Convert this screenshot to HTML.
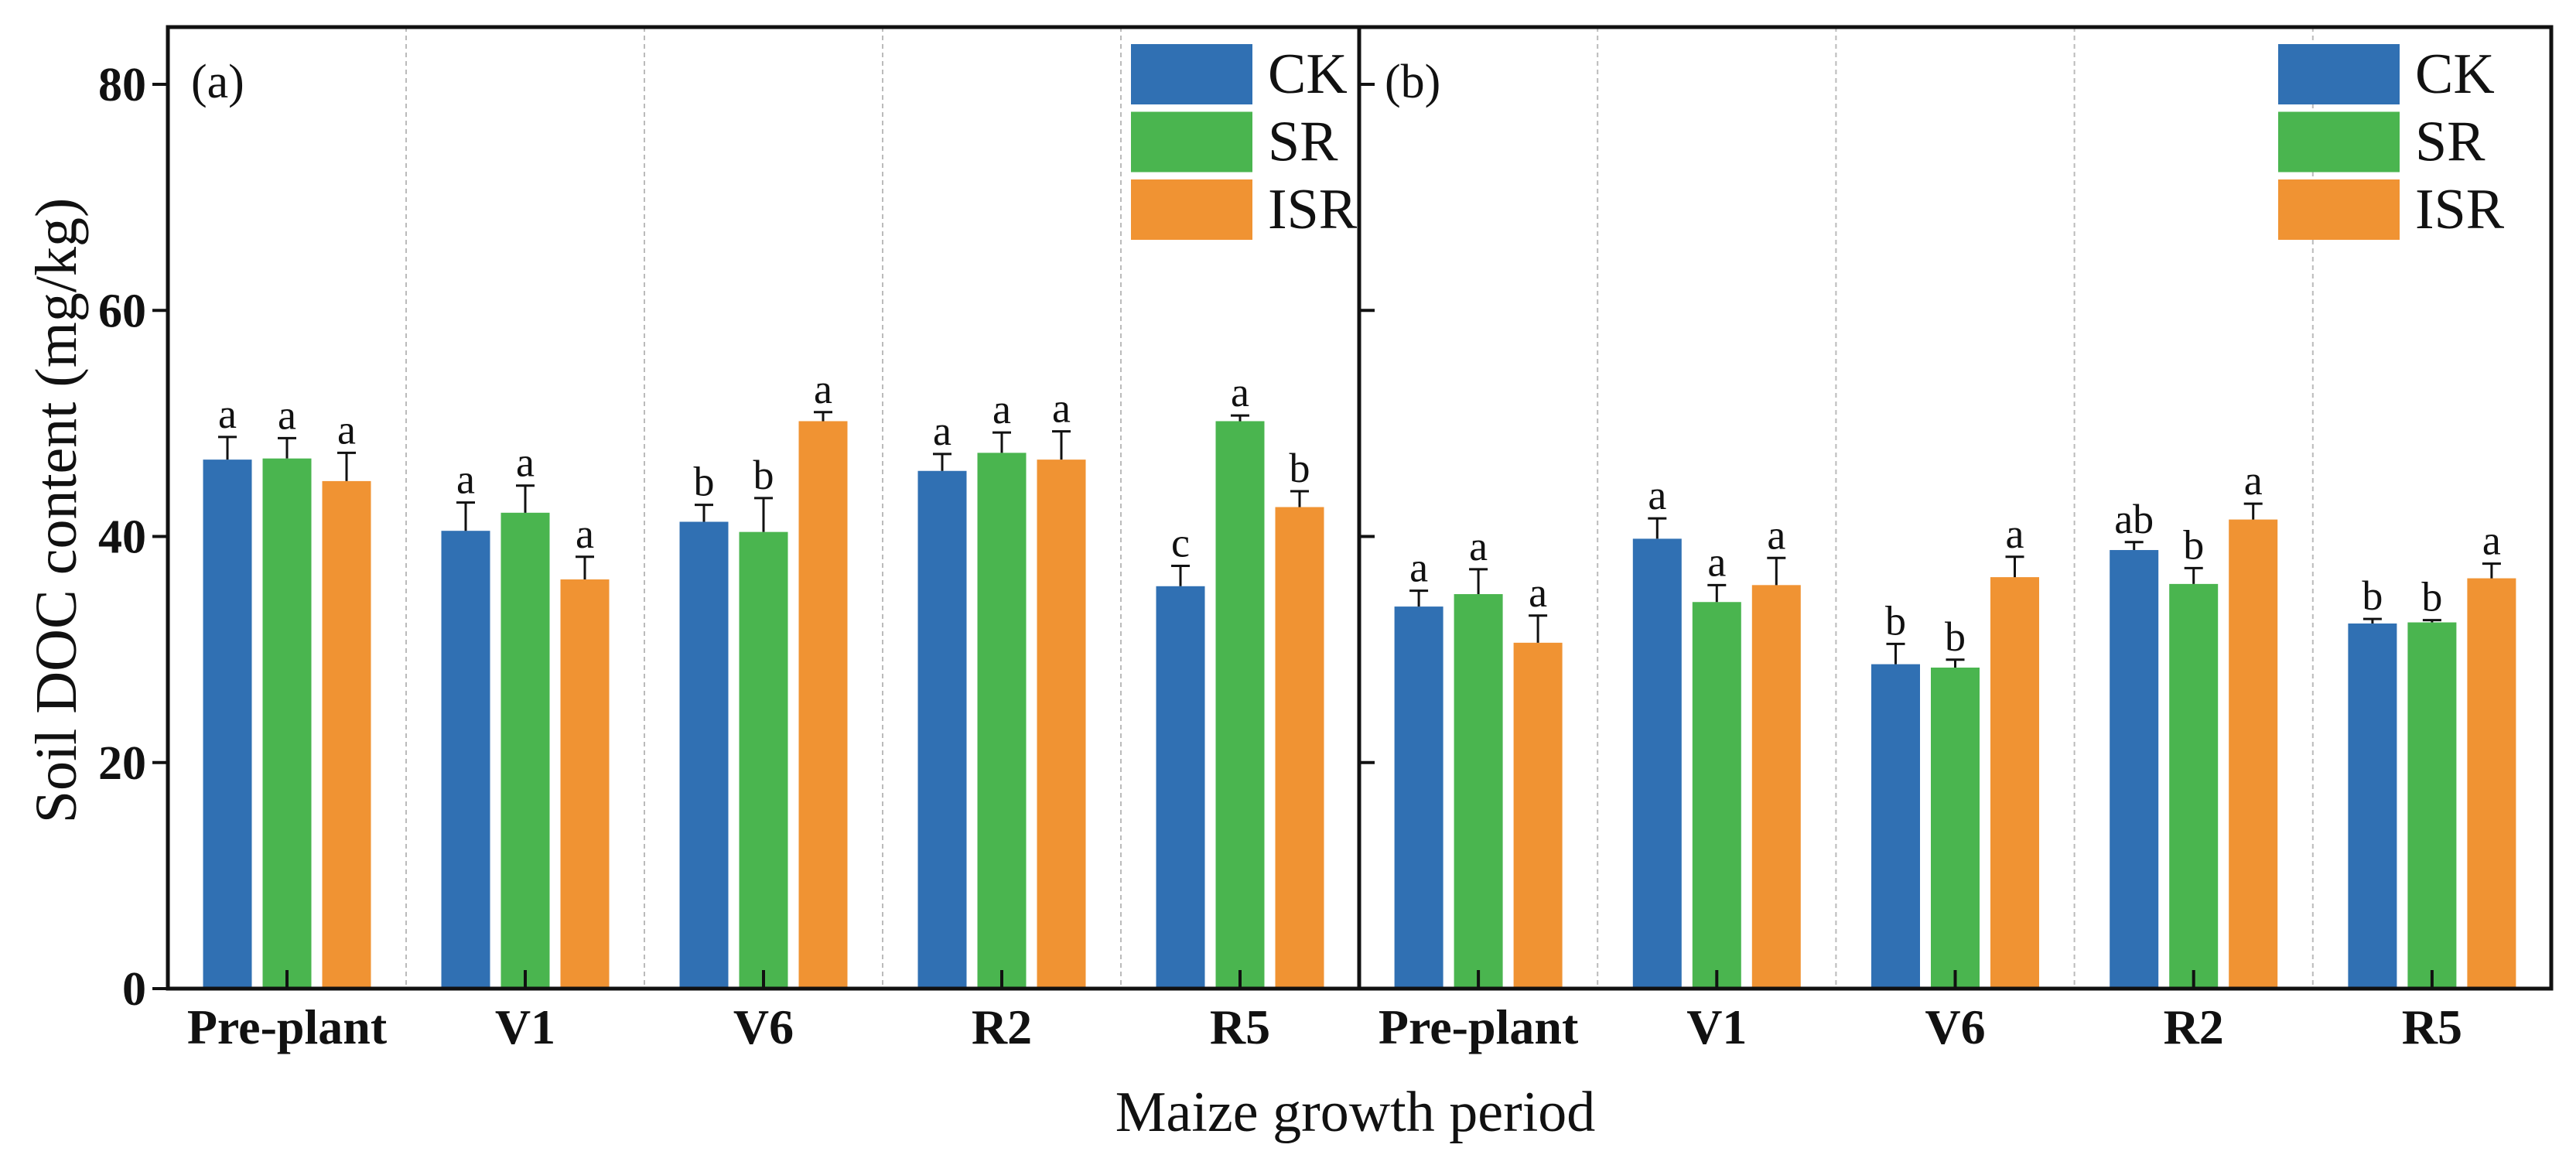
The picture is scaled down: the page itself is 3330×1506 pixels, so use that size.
<!DOCTYPE html>
<html><head><meta charset="utf-8"><style>
html,body{margin:0;padding:0;background:#fff;}
svg{display:block;}
text{font-family:"Liberation Serif",serif;}
</style></head><body>
<svg id="chart" width="3330" height="1506" viewBox="0 0 3330 1506" xmlns="http://www.w3.org/2000/svg">
<rect x="0" y="0" width="3330" height="1506" fill="#fff"/>
</svg>
<script>
const categories = ["Pre-plant","V1","V6","R2","R5"];
const seriesNames = ["CK","SR","ISR"];
const yTicks = [0,20,40,60,80];
const aCK = [46.8,40.5,41.3,45.8,35.6];
const aSR = [46.9,42.1,40.4,47.4,50.2];
const aISR = [44.9,36.2,50.2,46.8,42.6];
const aCKerr = [2.0,2.5,1.5,1.5,1.8];
const aSRerr = [1.8,2.4,3.0,1.8,0.5];
const aISRerr = [2.5,2.0,0.8,2.5,1.4];
const aCKlet = ["a","a","b","a","c"];
const aSRlet = ["a","a","b","a","a"];
const aISRlet = ["a","a","a","a","b"];
const bCK = [33.8,39.8,28.7,38.8,32.3];
const bSR = [34.9,34.2,28.4,35.8,32.4];
const bISR = [30.6,35.7,36.4,41.5,36.3];
const bCKerr = [1.4,1.8,1.8,0.7,0.4];
const bSRerr = [2.2,1.5,0.7,1.4,0.2];
const bISRerr = [2.4,2.4,1.8,1.4,1.3];
const bCKlet = ["a","a","b","ab","b"];
const bSRlet = ["a","a","b","b","b"];
const bISRlet = ["a","a","a","a","a"];

const colors = ["#3070b3","#4ab54f","#f09333"];
const NS = "http://www.w3.org/2000/svg";
const svg = document.getElementById("chart");
const Y0 = 1278, Y80 = 109, TOP = 35;
function yScale(v){ return Y0 - (v/80)*(Y0-Y80); }
function mk(tag, attrs, parent){ const e=document.createElementNS(NS,tag); for(const k in attrs) e.setAttribute(k,attrs[k]); (parent||svg).appendChild(e); return e; }

const panels = [
  {id:"a", x0:217, x1:1757, label:"(a)", vals:[aCK,aSR,aISR], errs:[aCKerr,aSRerr,aISRerr], lets:[aCKlet,aSRlet,aISRlet], legX:1462},
  {id:"b", x0:1757, x1:3298, label:"(b)", vals:[bCK,bSR,bISR], errs:[bCKerr,bSRerr,bISRerr], lets:[bCKlet,bSRlet,bISRlet], legX:2945}
];
const barW = 63, barStep = 77;

panels.forEach(p=>{
  const g = mk("g",{});
  
  
  const gw = (p.x1-p.x0)/categories.length;
  function xCenter(i){ return p.x0 + gw*(i+0.5); }
  // dashed separators
  for(let i=1;i<categories.length;i++){
    const l = mk("line",{x1:p.x0+gw*i,x2:p.x0+gw*i,y1:TOP,y2:Y0,stroke:"#bbb","stroke-width":2,"stroke-dasharray":"6,5"},g);
    
    
  }
  categories.forEach((c,i)=>{
    for(let s=0;s<3;s++){
      const v = p.vals[s][i], e = p.errs[s][i];
      const cx = xCenter(i) + (s-1)*barStep;
      const r = mk("rect",{x:cx-barW/2,y:yScale(v),width:barW,height:Y0-yScale(v),fill:colors[s]},g);
      
      
      const ye = yScale(v+e);
      const eb = mk("path",{d:`M${cx} ${yScale(v)} V${ye} M${cx-12} ${ye} H${cx+12}`,stroke:"#111","stroke-width":3,fill:"none"},g);
      
      
      const t = mk("text",{x:cx,y:ye-12,"text-anchor":"middle","font-size":54,fill:"#111"},g);
      t.textContent = p.lets[s][i];
      
      
    }
    const tk = mk("line",{x1:xCenter(i),x2:xCenter(i),y1:Y0,y2:Y0-24,stroke:"#111","stroke-width":4},g);
    
    
    const xl = mk("text",{x:xCenter(i),y:1349,"text-anchor":"middle","font-size":64,"font-weight":"bold",fill:"#111"},g);
    xl.textContent = c;
    
    
  });
  // y ticks
  yTicks.forEach(t=>{
    const y = yScale(t);
    if(p.id==="a"){
      const l = mk("line",{x1:p.x0-20,x2:p.x0,y1:y,y2:y,stroke:"#111","stroke-width":4},g);
      
      
      const tl = mk("text",{x:p.x0-28,y:y+21,"text-anchor":"end","font-size":62,"font-weight":"bold",fill:"#111"},g);
      tl.textContent = t;
      
      
    } else if(t>0){
      const l = mk("line",{x1:p.x0,x2:p.x0+20,y1:y,y2:y,stroke:"#111","stroke-width":4},g);
      
      
    }
  });
  const pl = mk("text",{x:p.x0+(p.id==="a"?30:33),y:126,"font-size":62,fill:"#111"},g);
  pl.textContent = p.label;
  
  
  // legend
  const lg = mk("g",{},g);
  
  
  seriesNames.forEach((n,s)=>{
    const yy = 57 + s*87.5;
    const sw = mk("rect",{x:p.legX,y:yy,width:157,height:78,fill:colors[s]},lg);
    
    
    const lt = mk("text",{x:p.legX+177,y:yy+63,"font-size":74,fill:"#111"},lg);
    lt.textContent = n;
    
    
  });
});
// frame
const fr = mk("rect",{x:217,y:TOP,width:3298-217,height:Y0-TOP,fill:"none",stroke:"#111","stroke-width":5});


const dv = mk("line",{x1:1757,x2:1757,y1:TOP,y2:Y0,stroke:"#111","stroke-width":5});


const yt = mk("text",{x:0,y:0,"text-anchor":"middle","font-size":76,fill:"#111",transform:"translate(98,660) rotate(-90)"});
yt.textContent = "Soil DOC content (mg/kg)";


const xt = mk("text",{x:1752,y:1462,"text-anchor":"middle","font-size":74,fill:"#111"});
xt.textContent = "Maize growth period";


</script>
</body></html>
